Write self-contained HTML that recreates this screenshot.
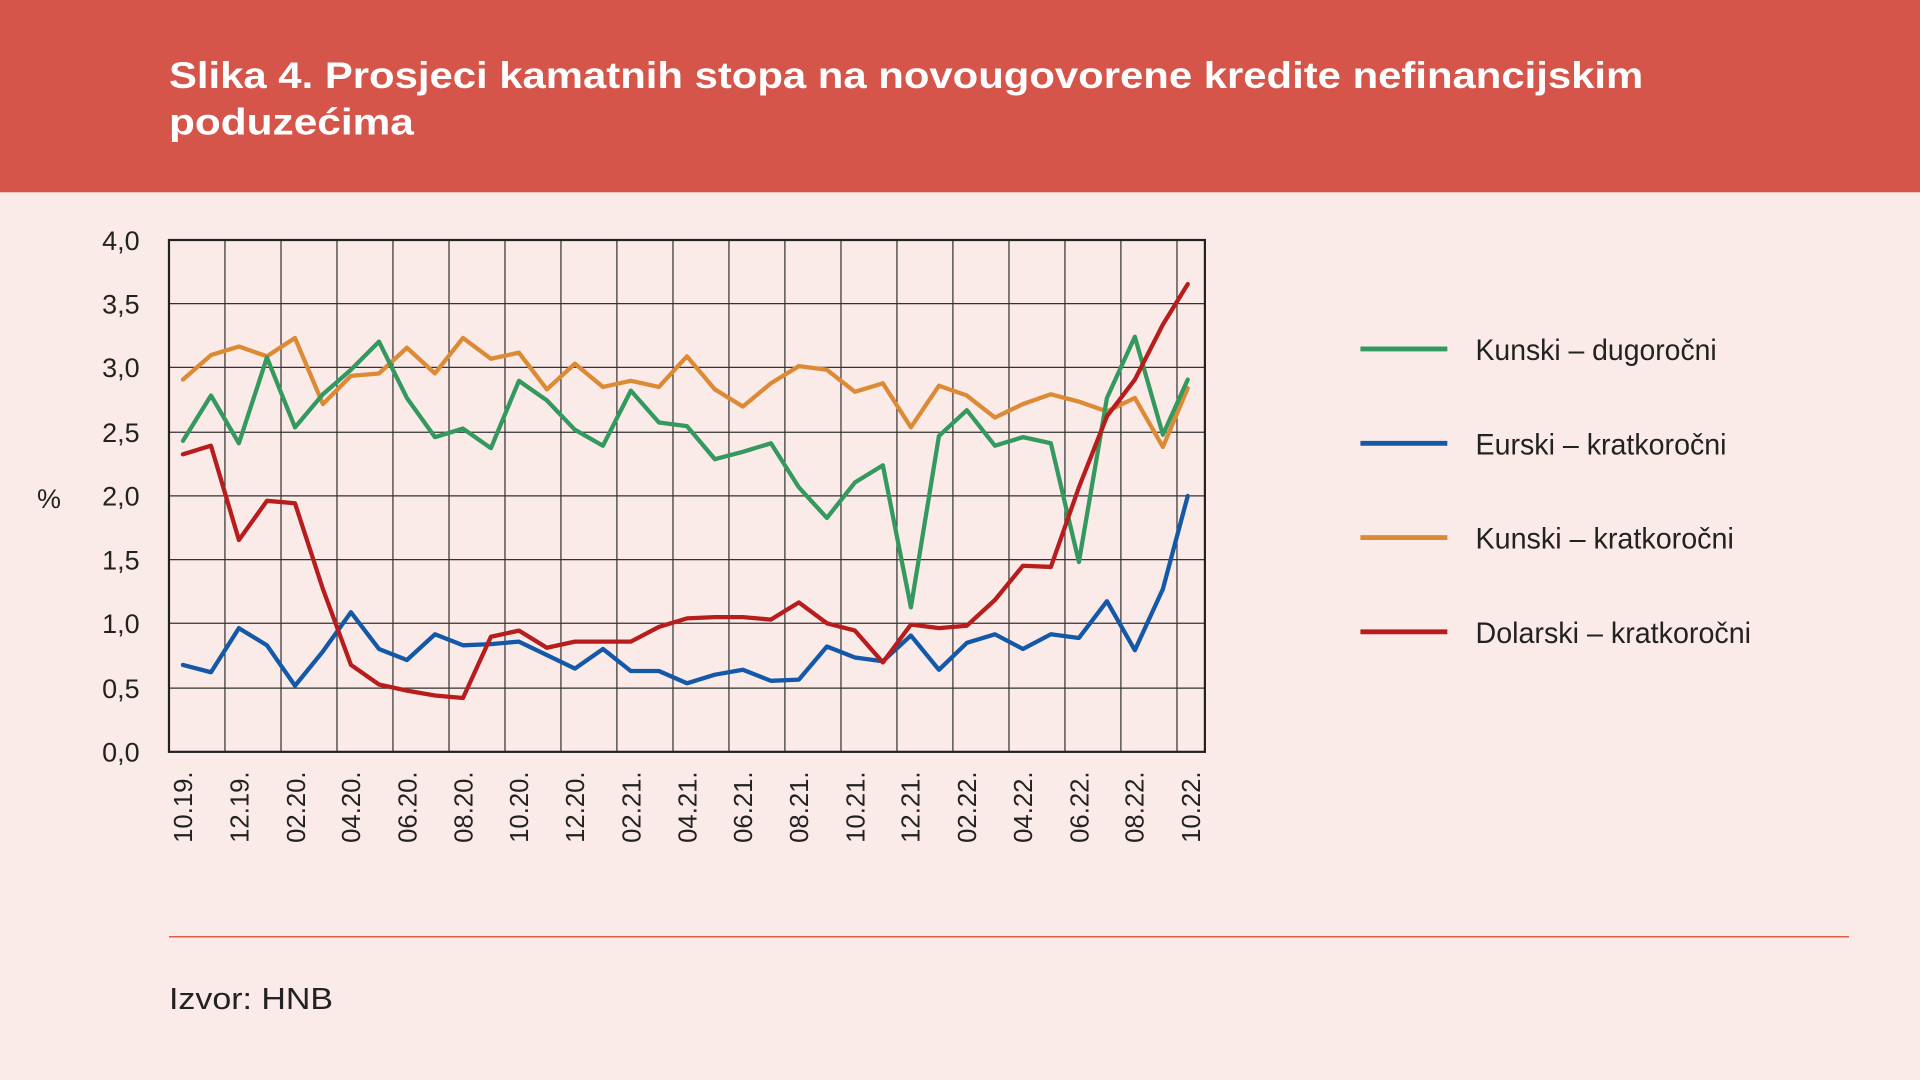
<!DOCTYPE html>
<html><head><meta charset="utf-8"><style>
html,body{margin:0;padding:0;width:1920px;height:1080px;overflow:hidden;background:#fbebe8}
svg{display:block}
text{font-family:"Liberation Sans",sans-serif}
</style></head><body>
<svg width="1920" height="1080" viewBox="0 0 1568 882" xmlns="http://www.w3.org/2000/svg">
<rect x="0" y="0" width="1568" height="882" fill="#fbebe8"/>
<rect x="0" y="0" width="1568" height="157" fill="#d5554a"/>
<text x="138" y="72" fill="#fff" font-size="30" font-weight="bold" textLength="1204" lengthAdjust="spacingAndGlyphs">Slika 4. Prosjeci kamatnih stopa na novougovorene kredite nefinancijskim</text>
<text x="138" y="110" fill="#fff" font-size="30" font-weight="bold" textLength="200" lengthAdjust="spacingAndGlyphs">poduzećima</text>

<g stroke="#333" stroke-width="1">
<line x1="138" y1="248" x2="984" y2="248"/><line x1="138" y1="300" x2="984" y2="300"/>
<line x1="138" y1="353" x2="984" y2="353"/><line x1="138" y1="405" x2="984" y2="405"/>
<line x1="138" y1="457" x2="984" y2="457"/><line x1="138" y1="509" x2="984" y2="509"/>
<line x1="138" y1="562" x2="984" y2="562"/>
<line x1="183.7" y1="196" x2="183.7" y2="614"/><line x1="229.5" y1="196" x2="229.5" y2="614"/>
<line x1="275.2" y1="196" x2="275.2" y2="614"/><line x1="320.9" y1="196" x2="320.9" y2="614"/>
<line x1="366.7" y1="196" x2="366.7" y2="614"/><line x1="412.4" y1="196" x2="412.4" y2="614"/>
<line x1="458.1" y1="196" x2="458.1" y2="614"/><line x1="503.8" y1="196" x2="503.8" y2="614"/>
<line x1="549.6" y1="196" x2="549.6" y2="614"/><line x1="595.3" y1="196" x2="595.3" y2="614"/>
<line x1="641" y1="196" x2="641" y2="614"/><line x1="686.8" y1="196" x2="686.8" y2="614"/>
<line x1="732.5" y1="196" x2="732.5" y2="614"/><line x1="778.2" y1="196" x2="778.2" y2="614"/>
<line x1="824" y1="196" x2="824" y2="614"/><line x1="869.7" y1="196" x2="869.7" y2="614"/>
<line x1="915.4" y1="196" x2="915.4" y2="614"/><line x1="961.2" y1="196" x2="961.2" y2="614"/>
</g>
<rect x="138" y="196" width="846" height="418" fill="none" stroke="#222" stroke-width="1.8"/>

<g font-size="22" fill="#222" text-anchor="end">
<text x="114" y="204">4,0</text><text x="114" y="256">3,5</text><text x="114" y="308">3,0</text>
<text x="114" y="361">2,5</text><text x="114" y="413">2,0</text><text x="114" y="465">1,5</text>
<text x="114" y="517">1,0</text><text x="114" y="570">0,5</text><text x="114" y="622">0,0</text>
</g>
<text x="40" y="415" font-size="22" fill="#222" text-anchor="middle">%</text>

<g font-size="21" fill="#222" text-anchor="end">
<text transform="translate(157,630) rotate(-90)">10.19.</text>
<text transform="translate(203,630) rotate(-90)">12.19.</text>
<text transform="translate(249,630) rotate(-90)">02.20.</text>
<text transform="translate(294,630) rotate(-90)">04.20.</text>
<text transform="translate(340,630) rotate(-90)">06.20.</text>
<text transform="translate(386,630) rotate(-90)">08.20.</text>
<text transform="translate(431,630) rotate(-90)">10.20.</text>
<text transform="translate(477,630) rotate(-90)">12.20.</text>
<text transform="translate(523,630) rotate(-90)">02.21.</text>
<text transform="translate(569,630) rotate(-90)">04.21.</text>
<text transform="translate(614,630) rotate(-90)">06.21.</text>
<text transform="translate(660,630) rotate(-90)">08.21.</text>
<text transform="translate(706,630) rotate(-90)">10.21.</text>
<text transform="translate(751,630) rotate(-90)">12.21.</text>
<text transform="translate(797,630) rotate(-90)">02.22.</text>
<text transform="translate(843,630) rotate(-90)">04.22.</text>
<text transform="translate(889,630) rotate(-90)">06.22.</text>
<text transform="translate(934,630) rotate(-90)">08.22.</text>
<text transform="translate(980,630) rotate(-90)">10.22.</text>
</g>

<g fill="none" stroke-width="3.5" stroke-linejoin="round" stroke-linecap="round">
<polyline stroke="#dc8a35" points="149.4,310 172.3,290 195.1,283 218,291 240.9,276 263.7,330 286.6,307 309.5,305 332.3,284 355.2,305 378.1,276 400.9,293 423.8,288 446.6,318 469.5,297 492.4,316 515.2,311 538.1,316 561,291 583.8,318 606.7,332 629.6,313 652.4,299 675.3,302 698.2,320 721,313 743.9,349 766.8,315 789.6,323 812.5,341 835.4,330 858.2,322 881.1,328 904,336 926.8,325 949.7,365 970,317"/>
<polyline stroke="#33995f" points="149.4,360 172.3,323 195.1,362 218,292 240.9,349 263.7,322 286.6,302 309.5,279 332.3,325 355.2,357 378.1,350 400.9,366 423.8,311 446.6,327 469.5,351 492.4,364 515.2,319 538.1,345 561,348 583.8,375 606.7,369 629.6,362 652.4,398 675.3,423 698.2,394 721,380 743.9,496 766.8,356 789.6,335 812.5,364 835.4,357 858.2,362 881.1,459 904,325 926.8,275 949.7,355 970,310"/>
<polyline stroke="#1458a8" points="149.4,543 172.3,549 195.1,513 218,527 240.9,560 263.7,532 286.6,500 309.5,530 332.3,539 355.2,518 378.1,527 400.9,526 423.8,524 446.6,535 469.5,546 492.4,530 515.2,548 538.1,548 561,558 583.8,551 606.7,547 629.6,556 652.4,555 675.3,528 698.2,537 721,540 743.9,519 766.8,547 789.6,525 812.5,518 835.4,530 858.2,518 881.1,521 904,491 926.8,531 949.7,481 970,405"/>
<polyline stroke="#b81d1d" points="149.4,371 172.3,364 195.1,441 218,409 240.9,411 263.7,481 286.6,543 309.5,559 332.3,564 355.2,568 378.1,570 400.9,520 423.8,515 446.6,529 469.5,524 492.4,524 515.2,524 538.1,512 561,505 583.8,504 606.7,504 629.6,506 652.4,492 675.3,509 698.2,515 721,541 743.9,510 766.8,513 789.6,511 812.5,490 835.4,462 858.2,463 881.1,398 904,340 926.8,310 949.7,265 970,232"/>
</g>

<g stroke-width="4">
<line x1="1111" y1="285" x2="1182" y2="285" stroke="#33995f"/>
<line x1="1111" y1="362" x2="1182" y2="362" stroke="#1458a8"/>
<line x1="1111" y1="439" x2="1182" y2="439" stroke="#dc8a35"/>
<line x1="1111" y1="516" x2="1182" y2="516" stroke="#b81d1d"/>
</g>
<g font-size="24" fill="#222">
<text x="1205" y="294" textLength="197" lengthAdjust="spacingAndGlyphs">Kunski – dugoročni</text>
<text x="1205" y="371" textLength="205" lengthAdjust="spacingAndGlyphs">Eurski – kratkoročni</text>
<text x="1205" y="448" textLength="211" lengthAdjust="spacingAndGlyphs">Kunski – kratkoročni</text>
<text x="1205" y="525" textLength="225" lengthAdjust="spacingAndGlyphs">Dolarski – kratkoročni</text>
</g>

<line x1="138" y1="765" x2="1510" y2="765" stroke="#e05a4a" stroke-width="1.2"/>
<text x="138" y="824" font-size="25" fill="#222" textLength="134" lengthAdjust="spacingAndGlyphs">Izvor: HNB</text>
</svg>
</body></html>
